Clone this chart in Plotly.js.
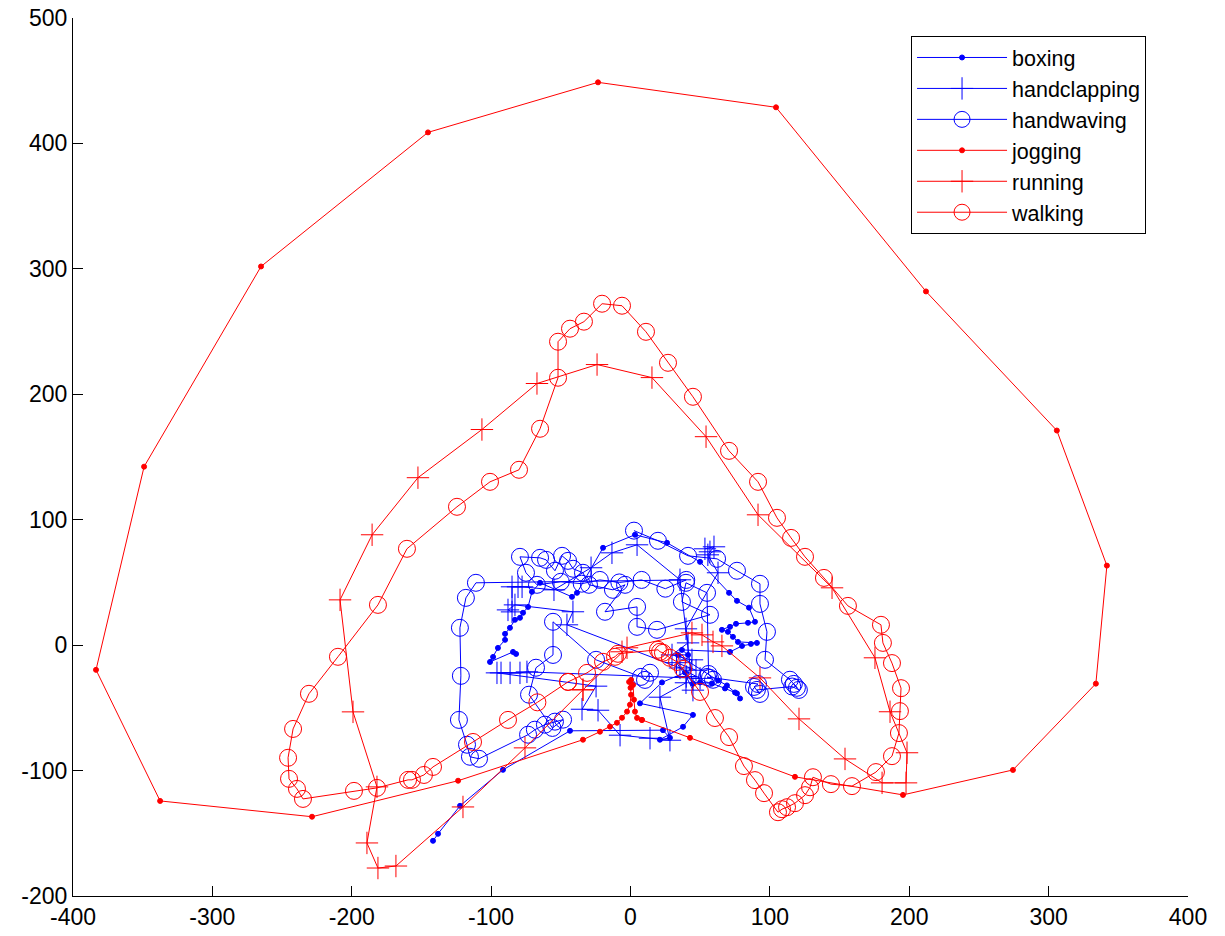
<!DOCTYPE html>
<html>
<head>
<meta charset="utf-8">
<script src="https://cdn.plot.ly/plotly-3.0.1.min.js"></script>
<style>
  html, body { margin: 0; padding: 0; background: #fff; }
  #chart { width: 1225px; height: 936px; }
</style>
</head>
<body>
<div id="chart"></div>
<script>
// Trajectories of six action classes in a 2-D embedding

const boxingX = [-141.7, -138.1, -122.3, -91.5, -43.4, 23.3, 28.3, 21.1, 37.7, 44.8, 6.8, 22.6, 39.1, 44.8, 49.9, 58.5, 67.8, 76.4, 78.6, 75, 69.2, 62.8, 34.1, 41.3, 36.9, 71.4, 80, 86.4, 90.7, 77.1, 73.5, 69.9, 65.6, 71.4, 75.7, 84.3, 89.3, 85, 76.4, 70.7, 49.9, 26.2, 3.2, -19.7, -38.4, -42, -64.9, -70.7, -73.5, -77.1, -79.3, -82.9, -86.5, -90, -90, -95.1, -98.6, -100.8, -84.3, -82.1];
const boxingY = [-156, -150.4, -128.1, -99.4, -68.3, -67.8, -73.9, -75.4, -65.1, -55.6, -46.4, -29.7, -21.8, -30.5, -29.7, -30.5, -34.5, -38.5, -42.5, -37.7, -32.1, -28.2, -7.8, -7.8, -3.8, -5.4, -0.6, 1, 1.8, 2.6, 6.6, 10.6, 12.2, 14.6, 17, 17.8, 18.6, 29.9, 35.3, 41.7, 66.4, 81.6, 88, 77.6, 41.7, 38.5, 49.7, 42.5, 30.5, 25.8, 21.8, 20.2, 13.8, 9, 4.2, -2.2, -9.4, -13.4, -5.4, -7];

const handclappingX = [53.4, 59.9, 57, 55.5, 62.8, 39.8, 41.3, 29.8, 44.1, 39.8, 21.1, 28.3, 14, -7.5, -23.3, -34.8, -24.7, -92.9, -95.8, -86.4, -79.3, -74.3, 49.9, 35.5, -45.6, -41.3, -82.9, -87.9, -85, -85, -80.7, -77.8, -54.9, -28.3, -13.3, 4.7, 35.5, 44.8, 40, 33, 47];
const handclappingY = [76.8, 78.4, 74.4, 72, 57.7, 13, 1.8, -7.8, -11.7, -30, -41.5, -75.8, -74.2, -71.8, -51.9, -51.1, -32.7, -22.1, -22.1, -22.1, -22.1, -21.3, -26.5, -18.2, 16.2, 26.6, 32.1, 28.1, 26.5, 46.5, 46.5, 46.5, 44.1, 61.7, 73.6, 80, 52.1, -35.9, -25, -14, -20];

const handwavingX = [2.5, 19.7, 41.3, 62.1, 76.4, 92.9, 92.9, 97.9, 96.5, 114.4, 119.4, 117.2, 120.8, 116, 90.7, 92.9, 88.6, 91.5, 57, 54.9, 59.2, 56, 54.9, 39.8, 36.9, 57, 19, 4.7, 4.7, -18.3, -3.9, -12.6, -29.8, -34.1, -41.2, -44.8, -49.1, -54.2, -60.6, -64.9, -79.3, -75, -67.1, -50, -35, -22, -8, 8, 25, 40, -110.9, -118.1, -122.4, -121.7, -123.1, -117.3, -115.2, -108.7, -73.5, -68.6, -61.4, -54.2, -48.4, -56, -72.8, -67.8, -55.6, -55.6, -24.7, 7.5, 10.4, 14];
const handwavingY = [91.3, 83.2, 71.2, 68.8, 59.3, 48.9, 32.9, 10.6, -11.7, -27.6, -34, -30.9, -35.7, -33, -35.7, -38.9, -33.3, -31, -26.1, -25.4, -27.6, -23, 41.7, 49.7, 34.5, 24.2, 12.2, 14.6, 30.5, 26.6, 48.1, 44.1, 48.1, 57.7, 60.9, 67.2, 71.2, 59.3, 68, 69.6, 70.4, 57.7, 48.1, 50.5, 49, 52, 50, 52, 45, 52, 49.7, 37.7, 13.8, -24.5, -59.6, -79.4, -89, -90.6, -71.4, -67.4, -63.4, -61, -59.4, -66, -39.5, -18, -7.8, 18.6, -11.7, -25.3, -27.7, -22];

const joggingX = [8.2, 42.7, 118, 195.5, 274.4, 333.9, 341.8, 305.9, 212, 104.4, -23.3, -145.3, -265.1, -349, -383.5, -337.5, -228.5, -123.7, -34.1, -21.9, -14.7, -9.7, -6.1, -2.5, -0.4, 0.4, 0, -1, 0.4, 1.8, 2.5, 3.2, 4.7, 8.2];
const joggingY = [-59.6, -73.9, -105, -119.4, -99.5, -30.7, 63.4, 171.1, 282, 428.8, 448.7, 408.8, 301.9, 142.3, -19.7, -124.2, -136.8, -108.1, -75.4, -69, -65, -61.9, -57.9, -53, -47.5, -39.6, -34, -29.3, -27.7, -31.7, -43.5, -53, -58, -59.6];

const runningX = [-34.1, -6.1, -2.5, 44.1, 51.3, 59.2, 65.6, 92.9, 120.9, 153.9, 180.5, 197.7, 198.4, 186.2, 175.4, 144.6, 91.5, 54.2, 15.4, -24, -67.1, -106.6, -152.5, -185.4, -208.4, -199.1, -181.9, -189.1, -181.2, -168.3, -120.2, -75.7, -34.1];
const runningY = [-35.6, -5.3, -2.1, 9.8, 8.2, 2.6, -0.6, -26.1, -58.8, -90.7, -109.8, -109.8, -85.8, -53.1, -10.1, 45.7, 103.9, 166.2, 213.3, 223.7, 208.6, 171.9, 133.5, 88, 36.1, -53.2, -113, -157.7, -177.7, -176.1, -129, -81.9, -35.6];

const walkingX = [-44.8, -31.2, -19.7, -11.1, -9, 19.7, 21.2, 23.3, 28.3, 33.4, 37.7, 49.9, 60.6, 70.7, 81.4, 89.3, 95.8, 105.8, 108.7, 112.3, 118, 125.2, 128.8, 130.9, 143.8, 158.9, 176.1, 187.6, 192.6, 193.3, 194.1, 187.6, 181.1, 179.7, 156, 138.8, 125.2, 115.2, 105.1, 91.5, 70.7, 44.8, 26.9, 11.1, -6.1, -20.4, -33.4, -43.4, -52, -52, -64.9, -80, -100.8, -124.5, -160.4, -181.2, -209.9, -230.7, -242.1, -245.7, -245, -239.3, -235, -198.4, -181.9, -159.6, -156.8, -148.2, -141.7, -113, -87.9, -66.8, -44.8];
const walkingY = [-29.3, -22.1, -13.3, -9.3, -6.9, -3.7, -5.3, -6.1, -10.1, -13.4, -19, -37.3, -58.1, -73.3, -96.4, -107.6, -118, -133.2, -130.8, -129.2, -126, -119.6, -113.3, -105.3, -110.8, -112.4, -101.2, -88.5, -70.1, -52.6, -34.3, -14.3, 1.8, 16.2, 31.3, 53.6, 70.4, 85.5, 101.5, 130.2, 154.9, 198, 225.1, 249.8, 270.6, 272.2, 257.9, 252.3, 241.9, 213.2, 172.5, 139.8, 130.2, 110.3, 76.8, 32.1, -9.3, -38.8, -66.8, -89.8, -106.6, -114.6, -122.6, -116.2, -113.8, -107.4, -107.4, -103.5, -97.1, -77.2, -59.6, -45.6, -29.3];

const xTickVals = [-400, -300, -200, -100, 0, 100, 200, 300, 400];
const xTickText = ['-400', '-300', '-200', '-100', '0', '100', '200', '300', '400'];
const yTickVals = [-200, -100, 0, 100, 200, 300, 400, 500];
const yTickText = ['-200', '-100', '0', '100', '200', '300', '400', '500'];

const BLUE = '#0000ff';
const RED = '#ff0000';

function series(name, xs, ys, color, symbol, size) {
  return {
    type: 'scatter',
    mode: 'lines+markers',
    name: name,
    x: xs,
    y: ys,
    line: { color: color, width: 1 },
    marker: {
      symbol: symbol,
      size: size,
      color: color,
      line: { color: color, width: 1 }
    },
    cliponaxis: false
  };
}

const traces = [
  series('boxing', boxingX, boxingY, BLUE, 'circle', 5),
  series('handclapping', handclappingX, handclappingY, BLUE, 'cross-thin-open', 16),
  series('handwaving', handwavingX, handwavingY, BLUE, 'circle-open', 17),
  series('jogging', joggingX, joggingY, RED, 'circle', 5),
  series('running', runningX, runningY, RED, 'cross-thin-open', 16),
  series('walking', walkingX, walkingY, RED, 'circle-open', 17)
];

const tickFont = { family: 'Liberation Sans, Arial, sans-serif', size: 23, color: '#000' };

const layout = {
  width: 1225,
  height: 936,
  paper_bgcolor: '#fff',
  plot_bgcolor: '#fff',
  margin: { l: 73, r: 37, t: 18, b: 40 },
  showlegend: true,
  xaxis: {
    range: [-400, 400],
    tickvals: xTickVals,
    ticktext: xTickText,
    ticks: 'inside',
    ticklen: 10,
    tickwidth: 1,
    tickcolor: '#000',
    showline: true,
    linecolor: '#000',
    linewidth: 1,
    mirror: false,
    showgrid: false,
    zeroline: false,
    tickfont: tickFont
  },
  yaxis: {
    range: [-200, 500],
    tickvals: yTickVals,
    ticktext: yTickText,
    ticks: 'inside',
    ticklen: 10,
    tickwidth: 1,
    tickcolor: '#000',
    showline: true,
    linecolor: '#000',
    linewidth: 1,
    mirror: false,
    showgrid: false,
    zeroline: false,
    tickfont: tickFont
  },
  legend: {
    x: 0.7516,
    y: 0.9795,
    xanchor: 'left',
    yanchor: 'top',
    bgcolor: '#fff',
    bordercolor: '#000',
    borderwidth: 1,
    font: { family: 'Liberation Sans, Arial, sans-serif', size: 21.5, color: '#000' },
    itemwidth: 90,
    tracegroupgap: 0
  }
};

Plotly.newPlot('chart', traces, layout, { displayModeBar: false, staticPlot: true });
</script>
</body>
</html>
